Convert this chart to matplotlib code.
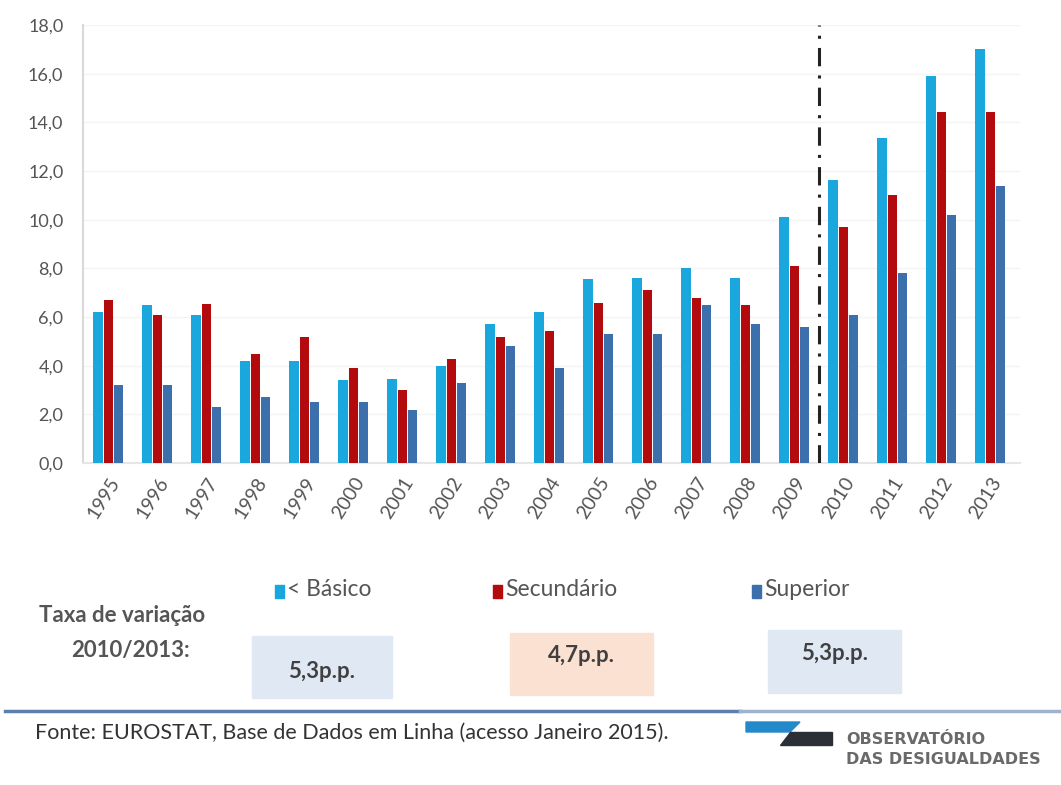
import numpy as np
import matplotlib
matplotlib.use("Agg")
import matplotlib.pyplot as plt
from matplotlib.patches import Rectangle, Polygon

plt.rcParams['font.family'] = ['Lato', 'DejaVu Sans']

years = [str(y) for y in range(1995, 2014)]
basico = [6.2, 6.5, 6.1, 4.2, 4.2, 3.4, 3.45, 4.0, 5.7, 6.2, 7.55, 7.6, 8.0, 7.6, 10.1, 11.65, 13.35, 15.9, 17.0]
secundario = [6.7, 6.1, 6.55, 4.5, 5.2, 3.9, 3.0, 4.3, 5.2, 5.45, 6.6, 7.1, 6.8, 6.5, 8.1, 9.7, 11.0, 14.45, 14.45]
superior = [3.2, 3.2, 2.3, 2.7, 2.5, 2.5, 2.2, 3.3, 4.8, 3.9, 5.3, 5.3, 6.5, 5.7, 5.6, 6.1, 7.8, 10.2, 11.4]
series_names = ["< Básico", "Secundário", "Superior"]
colors = ["#1aa7de", "#b30a0e", "#3b70ad"]
variacao = ["5,3p.p.", "4,7p.p.", "5,3p.p."]
box_colors = ["#dfe8f3", "#fbe1d2", "#dfe8f3"]
fonte = "Fonte: EUROSTAT, Base de Dados em Linha (acesso Janeiro 2015)."

fig = plt.figure(figsize=(10.61, 7.85), dpi=100)
ax = fig.add_axes([0.078, 0.410, 0.883, 0.558])

x = np.arange(len(years))
w = 0.19
for i, (vals, c) in enumerate(zip([basico, secundario, superior], colors)):
    ax.bar(x + (i - 1) * 0.21, vals, width=w, color=c, zorder=3)

# break between 2009 and 2010
ax.axvline(14.5, color="#222222", linestyle=(0, (6, 3, 1, 3)), linewidth=2.2, zorder=4)

ax.set_xlim(-0.52, 18.6)
ax.set_ylim(0, 18)
ax.set_yticks(np.arange(0, 19, 2))
ax.set_yticklabels([f"{v:.1f}".replace(".", ",") for v in np.arange(0, 19, 2)],
                   fontsize=13, color="#555555")
ax.set_xticks(x)
ax.set_xticklabels(years, rotation=58, ha="right", rotation_mode="anchor",
                   fontsize=14, color="#555555")
ax.tick_params(axis="y", length=0, pad=14)
ax.tick_params(axis="x", length=0, pad=8)
ax.grid(axis="y", color="#f4f4f4", linewidth=1, zorder=0)
for s in ["top", "right"]:
    ax.spines[s].set_visible(False)
ax.spines["left"].set_color("#d9d9d9")
ax.spines["bottom"].set_color("#e6e6e6")
ax.spines["left"].set_linewidth(1.5)
ax.spines["bottom"].set_linewidth(1.5)

W, H = 1061.0, 785.0
def fx(px):
    return px / W
def fy(py):
    return 1 - py / H

# legend
leg_x = [275, 493, 752]
for lx, name, c in zip(leg_x, series_names, colors):
    fig.patches.append(Rectangle((fx(lx), fy(598)), 9 / W, 13 / H, color=c,
                                 transform=fig.transFigure))
    fig.text(fx(lx + 12), fy(590), name, fontsize=16.5, color="#555555",
             va="center", ha="left")

fig.text(fx(122), fy(615), "Taxa de variação", fontsize=16, fontweight="bold",
         color="#555555", ha="center", va="center")
fig.text(fx(130), fy(650), "2010/2013:", fontsize=16, fontweight="bold",
         color="#555555", ha="center", va="center")

boxes = [(252, 636, 140, 62), (510, 633, 143, 62), (768, 630, 133, 63)]
text_y = [672, 655, 653]
for (bx, by, bw, bh), t, bc, ty in zip(boxes, variacao, box_colors, text_y):
    fig.patches.append(Rectangle((fx(bx), fy(by + bh)), bw / W, bh / H, color=bc,
                                 transform=fig.transFigure, zorder=0))
    fig.text(fx(bx + bw / 2), fy(ty), t, fontsize=16, fontweight="bold",
             color="#404040", ha="center", va="center")

# separator line
fig.add_artist(plt.Line2D([fx(5), fx(740)], [fy(711), fy(711)], color="#5d7fae",
                          linewidth=2.5, transform=fig.transFigure))
fig.add_artist(plt.Line2D([fx(740), fx(1061)], [fy(711), fy(711)], color="#9fb3cf",
                          linewidth=2.5, transform=fig.transFigure))

fig.text(fx(35), fy(733), fonte, fontsize=15.5, color="#333333", ha="left", va="center")

# logo
fig.patches.append(Polygon([(fx(746), fy(722)), (fx(800), fy(722)), (fx(790), fy(732)),
                            (fx(746), fy(732))], closed=True, color="#2489c9",
                           transform=fig.transFigure))
fig.patches.append(Polygon([(fx(790), fy(732)), (fx(832), fy(732)), (fx(832), fy(745)),
                            (fx(780), fy(745))], closed=True, color="#2b2f36",
                           transform=fig.transFigure))
fig.text(fx(846), fy(739), "OBSERVATÓRIO", fontsize=11.5, fontweight="bold",
         color="#6a6a6a", ha="left", va="center", family="DejaVu Sans")
fig.text(fx(846), fy(760), "DAS DESIGUALDADES", fontsize=11.5, fontweight="bold",
         color="#6a6a6a", ha="left", va="center", family="DejaVu Sans")

fig.savefig("out.png", dpi=100)
